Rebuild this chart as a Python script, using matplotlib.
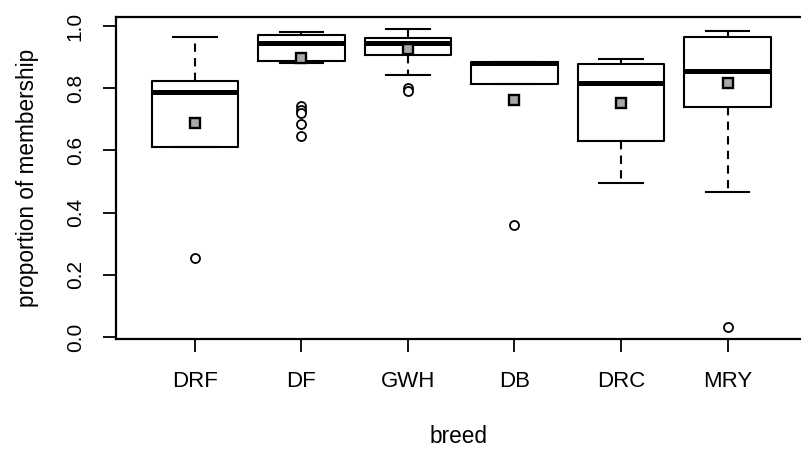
import matplotlib
matplotlib.use('Agg')
import matplotlib.pyplot as plt

plt.rcParams['font.family'] = ['Liberation Sans', 'DejaVu Sans']

breeds = ['DRF', 'DF', 'GWH', 'DB', 'DRC', 'MRY']
whis_lo = [0.611, 0.880, 0.841, 0.813, 0.496, 0.467]
q1 = [0.611, 0.887, 0.907, 0.813, 0.629, 0.740]
medians = [0.787, 0.944, 0.944, 0.880, 0.816, 0.855]
q3 = [0.824, 0.971, 0.960, 0.883, 0.879, 0.966]
whis_hi = [0.964, 0.981, 0.989, 0.883, 0.893, 0.985]
means = [0.688, 0.897, 0.927, 0.763, 0.753, 0.817]
outliers = [
    [0.255],
    [0.744, 0.731, 0.719, 0.685, 0.647],
    [0.801, 0.791],
    [0.360],
    [],
    [0.033],
]

stats = []
for i, name in enumerate(breeds):
    stats.append({'label': name, 'whislo': whis_lo[i], 'q1': q1[i], 'med': medians[i],
                  'q3': q3[i], 'whishi': whis_hi[i], 'fliers': outliers[i]})

fig = plt.figure(figsize=(8.01, 4.49), dpi=100)
ax = fig.add_axes([116 / 801, 1 - 339 / 449, 1 - 116 / 801, (339 - 17) / 449])

pos = list(range(1, len(breeds) + 1))
lw = 1.5
ax.bxp(stats, positions=pos, widths=0.81, capwidths=0.41, showfliers=True,
       boxprops=dict(color='black', linewidth=lw),
       medianprops=dict(color='black', linewidth=3.6, solid_capstyle='butt'),
       whiskerprops=dict(color='black', linewidth=lw, linestyle=(0, (4, 3))),
       capprops=dict(color='black', linewidth=lw),
       flierprops=dict(marker='o', markerfacecolor='white', markeredgecolor='black',
                       markersize=6.5, markeredgewidth=1.3))

ax.plot(pos, means, linestyle='none', marker='s', markersize=6.5,
        markerfacecolor='#a8a8a8', markeredgecolor='black', markeredgewidth=1.7, zorder=5)

ax.set_xlim(0.259, 6.69)
ax.set_ylim(-0.006, 1.029)
ax.set_xticks(pos)
ax.set_xticklabels(breeds, fontsize=16)
ax.set_yticks([0.0, 0.2, 0.4, 0.6, 0.8, 1.0])
ax.set_yticklabels(['0.0', '0.2', '0.4', '0.6', '0.8', '1.0'], fontsize=15,
                   rotation=90, va='center')
ax.tick_params(axis='both', length=9.5, width=1.3, color='black')
ax.tick_params(axis='x', pad=13.5)
ax.tick_params(axis='y', pad=13)
for side in ['left', 'top', 'bottom']:
    ax.spines[side].set_linewidth(1.6)
ax.spines['right'].set_visible(False)

ax.set_xlabel('breed', fontsize=16.3, labelpad=24)
ax.set_ylabel('proportion of membership', fontsize=16.3, labelpad=19)

fig.savefig('out.png', dpi=100)
